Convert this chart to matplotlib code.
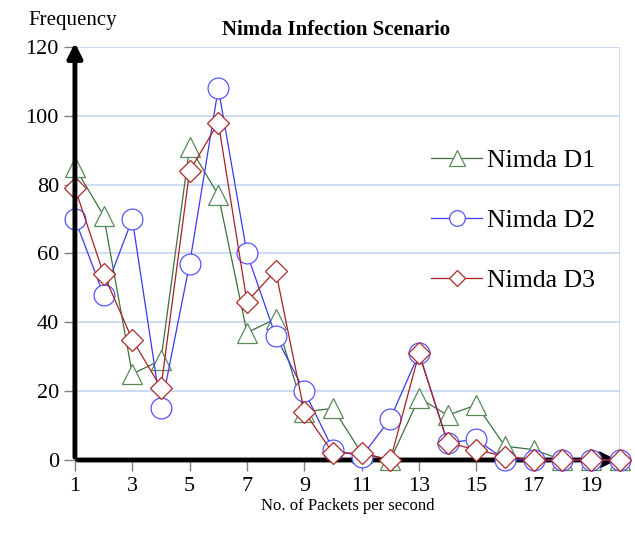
import numpy as np
import matplotlib.pyplot as plt

plt.rcParams['font.family'] = ['Liberation Serif', 'DejaVu Serif']

x = np.arange(1, 21)
d1 = [85, 71, 25, 29, 91, 77, 37, 41, 14, 15, 2, 0, 18, 13, 16, 4, 3, 0, 0, 0]
d2 = [70, 48, 70, 15, 57, 108, 60, 36, 20, 3, 1, 12, 31, 5, 6, 0, 0, 0, 0, 0]
d3 = [79, 54, 35, 21, 84, 98, 46, 55, 14, 2, 2, 0, 31, 5, 3, 1, 0, 0, 0, 0]
xticks = [1, 3, 5, 7, 9, 11, 13, 15, 17, 19]
yticks = [0, 20, 40, 60, 80, 100, 120]

fig = plt.figure(figsize=(6.35, 5.34), dpi=100)
ax = fig.add_axes([0.118, 0.1386, 0.858, 0.7735])

grid_c = '#c3d5ee'
for v in yticks[1:]:
    ax.axhline(v, color=grid_c, lw=1.2, zorder=0)
ax.axvline(20, color=grid_c, lw=1.2, zorder=0)

ax.plot(x, d1, color='#3f6f3f', lw=0.9, marker='^', ms=15, mfc='white',
        mec='#5a8a5a', mew=0.9, label='Nimda D1', clip_on=False, zorder=3)
ax.plot(x, d2, color='#3a3aee', lw=0.9, marker='o', ms=15, mfc='white',
        mec='#5555ff', mew=0.9, label='Nimda D2', clip_on=False, zorder=4)
ax.plot(x, d3, color='#a82020', lw=0.9, marker='D', ms=11, mfc='white',
        mec='#b02a2a', mew=0.9, label='Nimda D3', clip_on=False, zorder=5)

ax.set_xlim(1, 20)
ax.set_ylim(0, 120)
for s in ['top', 'right', 'left', 'bottom']:
    ax.spines[s].set_visible(False)

# axis lines with arrow heads
ax.annotate('', xy=(1, 122), xytext=(1, 0),
            arrowprops=dict(arrowstyle='-|>', color='black', lw=3.5, mutation_scale=22),
            annotation_clip=False, zorder=6)
ax.annotate('', xy=(20, 0), xytext=(1, 0),
            arrowprops=dict(arrowstyle='-|>', color='black', lw=3.5, mutation_scale=22),
            annotation_clip=False, zorder=2)

ax.set_xticks(xticks)
ax.set_yticks(yticks)
ax.tick_params(axis='both', labelsize=16, color='#808080', length=8, width=1)
ax.tick_params(axis='x', pad=4)

ax.set_xlabel('No. of Packets per second', fontsize=12, labelpad=2)
fig.text(0.045, 0.962, 'Frequency', fontsize=15, ha='left', va='center')
fig.text(0.53, 0.943, 'Nimda Infection Scenario', fontsize=15, fontweight='bold',
         ha='center', va='center')

leg = ax.legend(loc='upper left', bbox_to_anchor=(0.612, 0.808), frameon=False,
                fontsize=18.5, labelspacing=1.44, handlelength=1.95, handletextpad=0.2,
                markerscale=0.75)

fig.savefig('out.png', dpi=100)
